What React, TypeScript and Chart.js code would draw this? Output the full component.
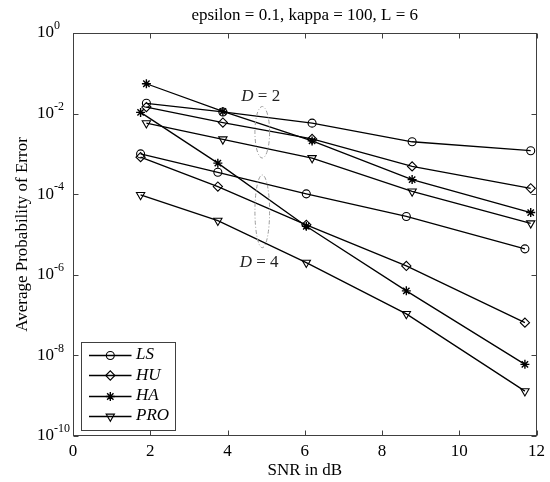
import React, { useEffect, useRef } from 'react';
import { Chart, registerables } from 'chart.js';
import * as helpers from 'chart.js/helpers';

Chart.register(...registerables);

const FONT = '"Liberation Serif", "Times New Roman", Times, serif';
const AXIS_COLOR = '#404040';

// ---- text ----
const TITLE = 'epsilon = 0.1, kappa = 100, L = 6';
const X_LABEL = 'SNR in dB';
const Y_LABEL = 'Average Probability of Error';

// ---- ticks ----
const X_TICKS = [0, 2, 4, 6, 8, 10, 12];
const Y_TICK_EXPONENTS = [0, -2, -4, -6, -8, -10];

// ---- data ----
const methods = ['LS', 'HU', 'HA', 'PRO'];
const snrD2 = [1.9, 3.88, 6.19, 8.78, 11.85];
const snrD4 = [1.75, 3.75, 6.04, 8.63, 11.7];

const lsD2 = [1.8e-2, 1.1e-2, 5.8e-3, 2.0e-3, 1.2e-3];
const huD2 = [1.45e-2, 6.0e-3, 2.35e-3, 4.9e-4, 1.4e-4];
const haD2 = [5.5e-2, 1.13e-2, 2.1e-3, 2.3e-4, 3.5e-5];
const proD2 = [5.8e-3, 2.3e-3, 7.9e-4, 1.17e-4, 1.9e-5];

const lsD4 = [1.0e-3, 3.5e-4, 1.02e-4, 2.8e-5, 4.4e-6];
const huD4 = [8.3e-4, 1.55e-4, 1.74e-5, 1.66e-6, 6.5e-8];
const haD4 = [1.07e-2, 5.9e-4, 1.6e-5, 4.0e-7, 6.0e-9];
const proD4 = [9.6e-5, 2.2e-5, 2.0e-6, 1.07e-7, 1.3e-9];

const seriesD2 = [lsD2, huD2, haD2, proD2];
const seriesD4 = [lsD4, huD4, haD4, proD4];

// ---- annotations (data coordinates) ----
const groupLabels = ['2', '4'];
const annot = [
  { label: groupLabels[0], textX: 4.86, textY: 2.0e-2, ex: 4.9, exHalf: 0.19, eyTop: 1.5e-2, eyBottom: 7.9e-4 },
  { label: groupLabels[1], textX: 4.82, textY: 1.6e-6, ex: 4.9, exHalf: 0.19, eyTop: 3.0e-4, eyBottom: 4.7e-6 },
];

// ---- marker styles ----
const markerStyles: Record<string, any> = {
  LS: { pointStyle: 'circle', radius: 4, rotation: 0, borderWidth: 1.1 },
  HU: { pointStyle: 'rectRot', radius: 4.6, rotation: 0, borderWidth: 1.1 },
  HA: { pointStyle: 'star', radius: 4.5, rotation: 0, borderWidth: 1.4 },
  PRO: { pointStyle: 'triangle', radius: 4.8, rotation: 180, borderWidth: 1.1 },
};

function makeDataset(name: string, xs: number[], ys: number[]) {
  const m = markerStyles[name];
  return {
    label: name,
    data: xs.map((x, i) => ({ x, y: ys[i] })),
    borderColor: '#000',
    borderWidth: 1.3,
    backgroundColor: 'rgba(0,0,0,0)',
    pointStyle: m.pointStyle,
    pointRadius: m.radius,
    pointRotation: m.rotation,
    pointBorderWidth: m.borderWidth,
    pointBorderColor: '#000',
    pointBackgroundColor: 'rgba(0,0,0,0)',
    tension: 0,
    fill: false,
  };
}

const decorPlugin = {
  id: 'decor',
  afterDraw(chart: any) {
    const { ctx, chartArea: a, scales } = chart;
    const xs = scales.x;
    const ys = scales.y;
    ctx.save();

    // annotations: ellipses
    ctx.strokeStyle = '#9a9a9a';
    ctx.lineWidth = 1;
    ctx.setLineDash([4, 2, 1, 2]);
    annot.forEach((an) => {
      const cx = xs.getPixelForValue(an.ex);
      const rx = xs.getPixelForValue(an.ex + an.exHalf) - cx;
      const yt = ys.getPixelForValue(an.eyTop);
      const yb = ys.getPixelForValue(an.eyBottom);
      ctx.beginPath();
      ctx.ellipse(cx, (yt + yb) / 2, rx, (yb - yt) / 2, 0, 0, Math.PI * 2);
      ctx.stroke();
    });
    ctx.setLineDash([]);

    // annotations: text "D = n"
    ctx.fillStyle = '#222';
    ctx.textBaseline = 'alphabetic';
    annot.forEach((an) => {
      const cx = xs.getPixelForValue(an.textX);
      const by = ys.getPixelForValue(an.textY);
      ctx.font = `italic 17px ${FONT}`;
      const wD = ctx.measureText('D').width;
      ctx.font = `17px ${FONT}`;
      const rest = ' = ' + an.label;
      const wR = ctx.measureText(rest).width;
      const x0 = cx - (wD + wR) / 2;
      ctx.font = `italic 17px ${FONT}`;
      ctx.textAlign = 'left';
      ctx.fillText('D', x0, by);
      ctx.font = `17px ${FONT}`;
      ctx.fillText(rest, x0 + wD, by);
    });

    // box
    ctx.strokeStyle = AXIS_COLOR;
    ctx.lineWidth = 1;
    const L = Math.round(a.left) + 0.5;
    const R = Math.round(a.right) - 0.5;
    const T = Math.round(a.top) + 0.5;
    const B = Math.round(a.bottom) - 0.5;
    ctx.strokeRect(L, T, R - L, B - T);

    // inward ticks
    const tl = 5;
    ctx.beginPath();
    X_TICKS.forEach((v) => {
      const px = Math.round(xs.getPixelForValue(v)) + 0.5;
      ctx.moveTo(px, B);
      ctx.lineTo(px, B - tl);
      ctx.moveTo(px, T);
      ctx.lineTo(px, T + tl);
    });
    Y_TICK_EXPONENTS.forEach((e) => {
      const py = Math.round(ys.getPixelForValue(Math.pow(10, e))) + 0.5;
      ctx.moveTo(L, py);
      ctx.lineTo(L + tl, py);
      ctx.moveTo(R, py);
      ctx.lineTo(R - tl, py);
    });
    ctx.stroke();

    // y tick labels 10^e
    ctx.fillStyle = '#000';
    Y_TICK_EXPONENTS.forEach((e) => {
      const py = ys.getPixelForValue(Math.pow(10, e));
      ctx.font = `17px ${FONT}`;
      ctx.textAlign = 'right';
      ctx.textBaseline = 'middle';
      ctx.fillText('10', 54, py);
      ctx.font = `12px ${FONT}`;
      ctx.textAlign = 'left';
      ctx.fillText(String(e), 54, py - 7);
    });

    // title
    ctx.font = `17px ${FONT}`;
    ctx.textAlign = 'center';
    ctx.textBaseline = 'alphabetic';
    ctx.fillText(TITLE, (a.left + a.right) / 2, 20);

    // legend
    const bx = a.left + 7.5;
    const bw = 93.5;
    const bh = 87.5;
    const by = a.bottom - 7 - bh;
    ctx.fillStyle = '#fff';
    ctx.fillRect(bx, by, bw, bh);
    ctx.strokeStyle = AXIS_COLOR;
    ctx.lineWidth = 1;
    ctx.strokeRect(Math.round(bx) + 0.5, Math.round(by) + 0.5, Math.round(bw), Math.round(bh));
    methods.forEach((name, i) => {
      const y = by + 13.5 + i * 20.3;
      ctx.strokeStyle = '#000';
      ctx.lineWidth = 1.3;
      ctx.beginPath();
      ctx.moveTo(bx + 8.5, Math.round(y) + 0.5);
      ctx.lineTo(bx + 51, Math.round(y) + 0.5);
      ctx.stroke();
      const m = markerStyles[name];
      ctx.fillStyle = 'rgba(0,0,0,0)';
      ctx.lineWidth = m.borderWidth;
      helpers.drawPoint(ctx, { pointStyle: m.pointStyle, radius: m.radius, rotation: m.rotation, borderWidth: m.borderWidth }, bx + 29.8, Math.round(y) + 0.5);
      ctx.fillStyle = '#000';
      ctx.font = `italic 17px ${FONT}`;
      ctx.textAlign = 'left';
      ctx.textBaseline = 'middle';
      ctx.fillText(name, bx + 55.5, y);
    });

    ctx.restore();
  },
};

export default function App() {
  const ref = useRef<HTMLCanvasElement | null>(null);
  useEffect(() => {
    if (!ref.current) return;
    const datasets = [
      ...methods.map((n, i) => makeDataset(n, snrD2, seriesD2[i])),
      ...methods.map((n, i) => makeDataset(n, snrD4, seriesD4[i])),
    ];
    const chart = new Chart(ref.current, {
      type: 'line',
      data: { datasets },
      options: {
        animation: false,
        responsive: false,
        layout: { padding: { top: 33, right: 13, bottom: 0, left: 0 } },
        plugins: { legend: { display: false }, tooltip: { enabled: false }, title: { display: false } },
        scales: {
          x: {
            type: 'linear',
            min: 0,
            max: 12,
            afterBuildTicks: (s: any) => {
              s.ticks = X_TICKS.map((v) => ({ value: v }));
            },
            afterFit: (s: any) => {
              s.height = 46;
            },
            grid: { display: false, drawTicks: false },
            border: { display: false },
            ticks: { color: '#000', font: { family: FONT, size: 17 }, padding: 5, maxRotation: 0, autoSkip: false },
            title: { display: true, text: X_LABEL, color: '#000', font: { family: FONT, size: 17 }, padding: { top: 0, bottom: 1 } },
          },
          y: {
            type: 'logarithmic',
            min: 1e-10,
            max: 1,
            afterBuildTicks: (s: any) => {
              s.ticks = Y_TICK_EXPONENTS.map((e) => ({ value: Math.pow(10, e) }));
            },
            afterFit: (s: any) => {
              s.width = 73;
            },
            grid: { display: false, drawTicks: false },
            border: { display: false },
            ticks: { display: false },
            title: { display: true, text: Y_LABEL, color: '#000', font: { family: FONT, size: 17 }, padding: { top: 12, bottom: 0 } },
          },
        },
      } as any,
      plugins: [decorPlugin],
    });
    return () => chart.destroy();
  }, []);
  return (
    <div style={{ position: 'absolute', left: 0, top: 0, width: 550, height: 482, background: '#fff' }}>
      <canvas ref={ref} width={550} height={482} style={{ display: 'block' }} />
    </div>
  );
}
